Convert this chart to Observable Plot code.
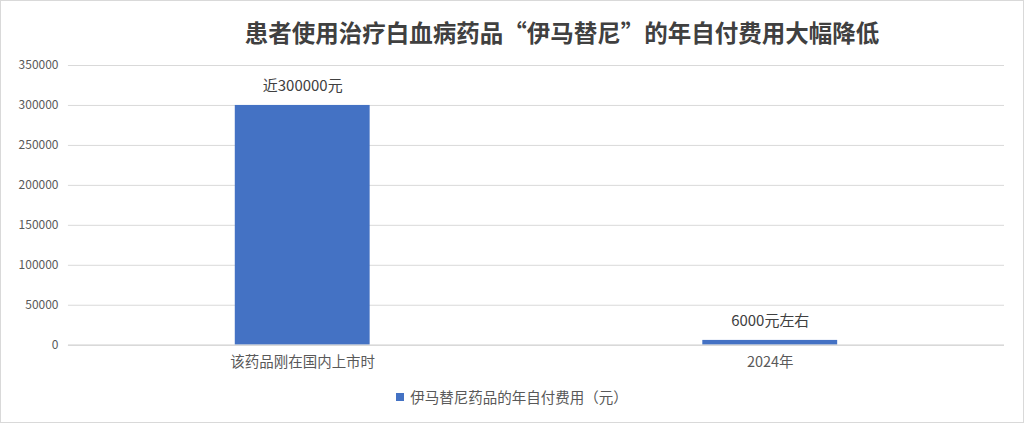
<!DOCTYPE html>
<html>
<head>
<meta charset="utf-8">
<script src="https://cdn.jsdelivr.net/npm/d3@7"></script>
<script src="https://cdn.jsdelivr.net/npm/@observablehq/plot@0.6"></script>
<style>
  html, body { margin: 0; padding: 0; background: #fff; }
  #frame { position: relative; width: 1022px; height: 421px; border: 1px solid #d9d9d9; overflow: hidden; font-family: "Noto Sans CJK SC", "Noto Sans", sans-serif; }
  #title { position: absolute; left: 0; top: 0; width: 1022px; height: 52px; text-align: center; padding-left: 100px; box-sizing: border-box; line-height: 62px; font-size: 23.5px; font-weight: bold; color: #404040; }
  #chart { position: absolute; left: -1px; top: 52px; }
  #legend { position: absolute; left: 0; top: 386px; width: 1022px; text-align: center; font-size: 14.5px; color: #595959; line-height: 20px; }
  #legend .sw { display: inline-block; width: 8px; height: 8px; background: #4472C4; margin-right: 6px; vertical-align: 2px; }
</style>
</head>
<body>
<div id="frame">
  <div id="title">患者使用治疗白血病药品“伊马替尼”的年自付费用大幅降低</div>
  <div id="chart"></div>
  <div id="legend"><span class="sw"></span>伊马替尼药品的年自付费用（元）</div>
</div>
<script>
const categories = ["该药品刚在国内上市时", "2024年"];
const values = [300000, 6000];
const valueLabels = ["近300000元", "6000元左右"];
const yTicks = [0, 50000, 100000, 150000, 200000, 250000, 300000, 350000];

const data = categories.map((c, i) => ({category: c, value: values[i], label: valueLabels[i]}));

const chart = Plot.plot({
  width: 1024,
  height: 325,
  marginTop: 12,
  marginBottom: 33,
  marginLeft: 68,
  marginRight: 19,
  style: { fontFamily: "'Noto Sans CJK SC', 'Noto Sans', sans-serif", fontSize: "12px", color: "#595959", background: "transparent" },
  x: { domain: categories, paddingInner: 0.712, paddingOuter: 0.355, label: null, tickSize: 0, tickPadding: 10 },
  y: { domain: [0, 350000], ticks: yTicks, label: null, tickSize: 0, tickPadding: 10, tickFormat: d => String(d) },
  marks: [
    Plot.gridY(yTicks, { stroke: "#d9d9d9", strokeOpacity: 1 }),
    Plot.barY(data, { x: "category", y: "value", fill: "#4472C4" }),
    Plot.ruleY([0], { stroke: "#d9d9d9", strokeWidth: 1.5 }),
    Plot.text(data, { x: "category", y: "value", text: "label", dy: -19, fontSize: 15, fill: "#404040" }),
    Plot.axisX({ tickSize: 0, tickPadding: 12, fontSize: 14.5, fill: "#595959" }),
    Plot.axisY(yTicks, { tickSize: 0, tickPadding: 10, fontSize: 12, fill: "#595959", tickFormat: d => String(d) })
  ]
});
document.getElementById("chart").appendChild(chart);
</script>
</body>
</html>
